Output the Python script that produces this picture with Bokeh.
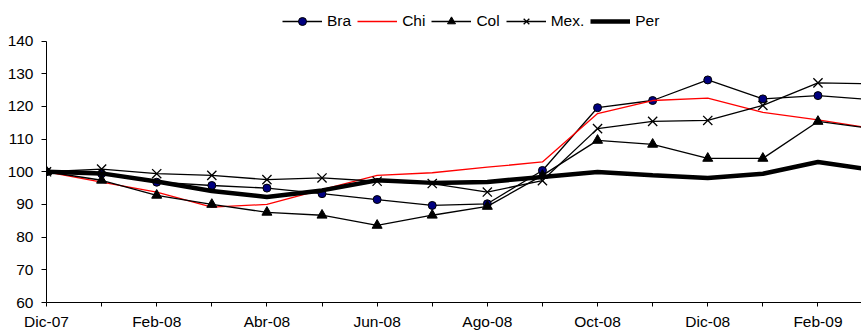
from bokeh.plotting import figure
from bokeh.models import Range1d, FixedTicker, Legend, LegendItem
from bokeh.embed import file_html
from bokeh.resources import INLINE

months = ["Dic-07", "Ene-08", "Feb-08", "Mar-08", "Abr-08", "May-08", "Jun-08", "Jul-08",
          "Ago-08", "Sep-08", "Oct-08", "Nov-08", "Dic-08", "Ene-09", "Feb-09", "Mar-09"]
bra = [100, 99.4, 96.8, 95.8, 95.0, 93.3, 91.5, 89.7, 90.2, 100.4, 119.6, 121.8, 128.1, 122.3, 123.3, 122.0]
chi = [100, 96.8, 93.8, 89.2, 90.0, 94.5, 98.9, 99.7, 101.4, 103.0, 117.8, 121.8, 122.5, 118.2, 115.9, 113.2]
col = [100, 97.4, 92.8, 90.0, 87.6, 86.7, 83.6, 86.7, 89.4, 98.9, 109.6, 108.4, 104.1, 104.1, 115.4, 113.2]
mex = [100, 100.8, 99.4, 98.9, 97.6, 98.1, 97.1, 96.4, 93.8, 97.3, 113.2, 115.4, 115.7, 120.3, 127.2, 126.9]
per = [100, 99.5, 97.0, 94.1, 92.3, 94.3, 97.4, 96.6, 96.9, 98.4, 99.9, 98.9, 98.1, 99.4, 103.0, 100.5]
y_ticks = [60, 70, 80, 90, 100, 110, 120, 130, 140]

x = list(range(len(months)))
FONT = "Liberation Sans"

p = figure(width=861, height=333, output_backend="svg", toolbar_location=None,
           x_range=Range1d(0, 14.79), y_range=Range1d(60, 152.4),
           min_border_left=46, min_border_right=0, min_border_top=0, min_border_bottom=31)
p.outline_line_color = None
p.grid.visible = False

xa = p.xaxis[0]
xa.ticker = FixedTicker(ticks=x)
xa.major_label_overrides = {i: (m if i % 2 == 0 else "") for i, m in enumerate(months)}
ya = p.yaxis[0]
ya.ticker = FixedTicker(ticks=y_ticks)
ya.bounds = (60, 140)
for ax, tout, stand in ((xa, 4, 6), (ya, 5, 8)):
    ax.major_tick_out = tout
    ax.major_tick_in = 0
    ax.minor_tick_out = 0
    ax.minor_tick_in = 0
    ax.major_label_standoff = stand
    ax.axis_line_color = "black"
    ax.major_tick_line_color = "black"
    ax.major_label_text_font = FONT
    ax.major_label_text_font_size = "15.5px"
    ax.major_label_text_color = "black"

r_bra_l = p.line(x, bra, line_color="black", line_width=1.3)
r_bra_s = p.scatter(x, bra, marker="circle", size=8, fill_color="#000080", line_color="black", line_width=1)
r_chi = p.line(x, chi, line_color="#FF0000", line_width=1.3)
r_col_l = p.line(x, col, line_color="black", line_width=1.3)
r_col_s = p.scatter(x, col, marker="triangle", size=10, fill_color="black", line_color="black")
r_mex_l = p.line(x, mex, line_color="black", line_width=1.3)
r_mex_s = p.scatter(x, mex, marker="x", size=13, line_color="black", line_width=1.3)
r_per = p.line(x, per, line_color="black", line_width=4.5)

legend = Legend(items=[
    LegendItem(label="Bra", renderers=[r_bra_l, r_bra_s]),
    LegendItem(label="Chi", renderers=[r_chi]),
    LegendItem(label="Col", renderers=[r_col_l, r_col_s]),
    LegendItem(label="Mex.", renderers=[r_mex_l, r_mex_s]),
    LegendItem(label="Per", renderers=[r_per]),
], orientation="horizontal", location=(236, 271), glyph_width=40, glyph_height=20,
    label_height=20, label_standoff=5, spacing=6, padding=2, margin=0,
    border_line_color=None, background_fill_alpha=0,
    label_text_font=FONT, label_text_font_size="15.5px", label_text_color="black")
p.add_layout(legend)

open("out.html", "w").write(file_html(p, INLINE))
